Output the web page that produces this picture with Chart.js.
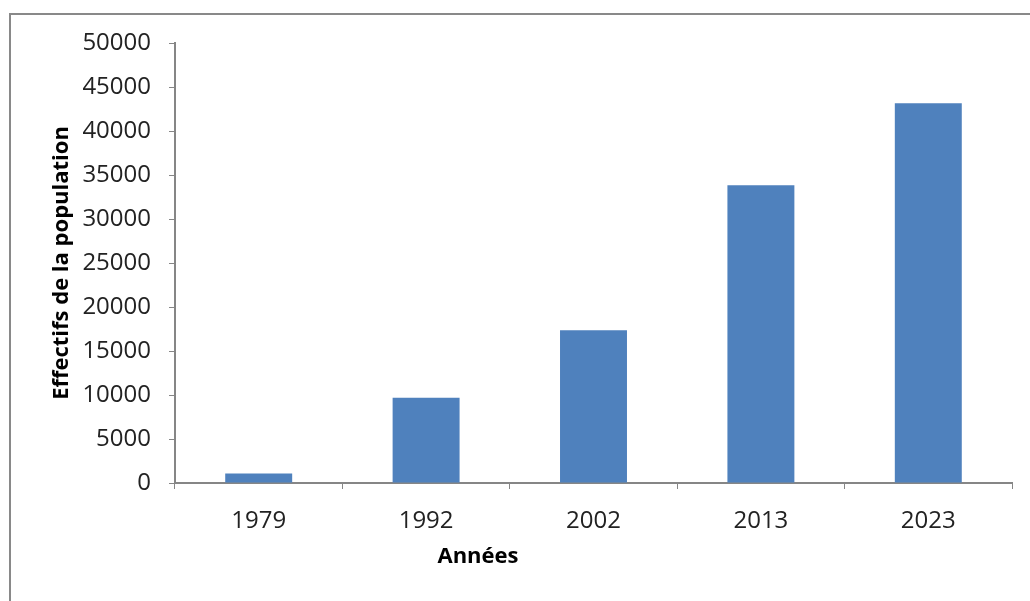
<!DOCTYPE html>
<html lang="fr">
<head>
    <meta charset="UTF-8">
    <title>Effectifs de la population</title>
    <script src="https://cdn.jsdelivr.net/npm/chart.js"></script>
    <style>
        html, body { margin: 0; padding: 0; background: #fff; }
        #wrap { width: 1030px; height: 601px; }
    </style>
</head>
<body>
<div id="wrap"><canvas id="popChart" width="1030" height="601"></canvas></div>
<script>
    // Population par année de recensement
    const annees = ["1979", "1992", "2002", "2013", "2023"];
    const effectifs = [1080, 9700, 17350, 33830, 43150];
    const yMax = 50000;
    const yStep = 5000;

    const axisGray = "#868686";
    const tickFont = { family: "Open Sans", size: 24 };

    // cadre gris et titres des axes
    const frame = {
        id: "frame",
        beforeDraw(chart) {
            const ctx = chart.ctx;
            ctx.save();
            ctx.fillStyle = "#fff";
            ctx.fillRect(0, 0, chart.width, chart.height);
            ctx.strokeStyle = "#898989";
            ctx.lineWidth = 2;
            ctx.strokeRect(10, 14, chart.width + 20, chart.height + 20);
            ctx.restore();
        },
        afterDraw(chart) {
            const ctx = chart.ctx;
            const area = chart.chartArea;
            ctx.save();
            ctx.fillStyle = "#000";
            ctx.font = "bold 22px 'Open Sans'";
            ctx.textAlign = "center";
            ctx.textBaseline = "middle";
            ctx.fillText("Années", 478, 557);
            ctx.translate(62, (area.top + area.bottom) / 2);
            ctx.rotate(-Math.PI / 2);
            ctx.fillText("Effectifs de la population", 0, 0);
            ctx.restore();
        }
    };

    new Chart(document.getElementById("popChart"), {
        type: "bar",
        data: {
            labels: annees,
            datasets: [{
                data: effectifs,
                backgroundColor: "#4F81BD",
                borderWidth: 0,
                categoryPercentage: 1,
                barPercentage: 0.4
            }]
        },
        options: {
            responsive: false,
            animation: false,
            layout: { padding: { top: 43, right: 18, bottom: 0, left: 0 } },
            plugins: { legend: { display: false }, tooltip: { enabled: false } },
            scales: {
                x: {
                    offset: true,
                    grid: { drawOnChartArea: false, offset: true, tickLength: 6, color: axisGray },
                    border: { color: axisGray, width: 2 },
                    ticks: { color: "#222", font: tickFont, padding: 18 },
                    afterFit(scale) { scale.height = 118; }
                },
                y: {
                    min: 0,
                    max: yMax,
                    grid: { drawOnChartArea: false, tickLength: 6, color: axisGray },
                    border: { color: axisGray, width: 2 },
                    ticks: {
                        stepSize: yStep,
                        color: "#222",
                        font: tickFont,
                        padding: 18,
                        callback: (v) => String(v)
                    },
                    afterFit(scale) { scale.width = 175; }
                }
            }
        },
        plugins: [frame]
    });
</script>
</body>
</html>
